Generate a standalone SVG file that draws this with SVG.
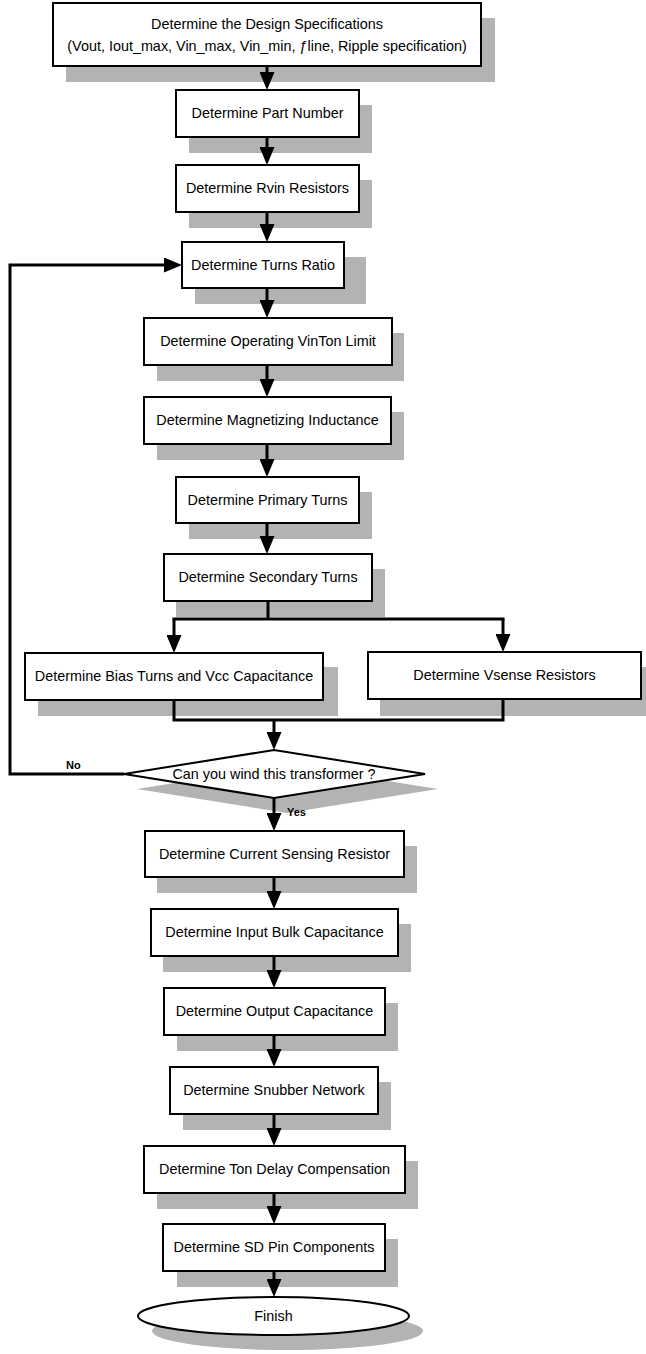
<svg xmlns="http://www.w3.org/2000/svg" width="646" height="1354" viewBox="0 0 646 1354">
<style>
.box{fill:#fff;stroke:#000;stroke-width:2}
.sh{fill:#b3b3b3}
.t{font-family:"Liberation Sans",Arial,sans-serif;font-size:14.4px;fill:#000;text-anchor:middle}
.lbl{font-family:"Liberation Sans",Arial,sans-serif;font-size:11px;font-weight:bold;fill:#000}
.c{fill:none;stroke:#000;stroke-width:3}
.ca{fill:none;stroke:#000;stroke-width:3;marker-end:url(#ah)}
</style>
<defs>
<marker id="ah" viewBox="0 0 18 15" refX="1" refY="7.5" markerWidth="18" markerHeight="15" markerUnits="userSpaceOnUse" orient="auto">
<path d="M0,0 L18,7.5 L0,15 z" fill="#000"/>
</marker>
</defs>
<rect width="646" height="1354" fill="#fff"/>

<g id="n1"><rect class="sh" x="66" y="18" width="429" height="64"/><rect class="box" x="53" y="3" width="428" height="63"/><text class="t" x="267" y="29">Determine the Design Specifications</text><text class="t" x="267" y="51">(Vout, Iout_max, Vin_max, Vin_min, ƒline, Ripple specification)</text></g>
<g id="n2"><rect class="sh" x="189" y="105" width="183" height="48"/><rect class="box" x="176" y="90" width="183" height="47"/><text class="t" x="267.5" y="118">Determine Part Number</text></g>
<g id="n3"><rect class="sh" x="189" y="180" width="183" height="48"/><rect class="box" x="176" y="165" width="183" height="47"/><text class="t" x="267.5" y="193">Determine Rvin Resistors</text></g>
<g id="n4"><rect class="sh" x="195" y="257" width="171" height="47"/><rect class="box" x="182" y="242" width="162" height="46"/><text class="t" x="263" y="270">Determine Turns Ratio</text></g>
<g id="n5"><rect class="sh" x="157" y="333" width="247" height="48"/><rect class="box" x="144" y="318" width="248" height="47"/><text class="t" x="268" y="346">Determine Operating VinTon Limit</text></g>
<g id="n6"><rect class="sh" x="157" y="412" width="247" height="48"/><rect class="box" x="144" y="397" width="247" height="47"/><text class="t" x="267.5" y="425">Determine Magnetizing Inductance</text></g>
<g id="n7"><rect class="sh" x="189" y="492" width="183" height="47"/><rect class="box" x="176" y="477" width="183" height="46"/><text class="t" x="267.5" y="505">Determine Primary Turns</text></g>
<g id="n8"><rect class="sh" x="176" y="569" width="209" height="48"/><rect class="box" x="164" y="554" width="208" height="47"/><text class="t" x="268" y="582">Determine Secondary Turns</text></g>
<g id="n9"><rect class="sh" x="38" y="667" width="300" height="49"/><rect class="box" x="25" y="653" width="298" height="47"/><text class="t" x="174" y="681">Determine Bias Turns and Vcc Capacitance</text></g>
<g id="n10"><rect class="sh" x="380" y="667" width="272" height="49"/><rect class="box" x="368" y="652" width="273" height="47"/><text class="t" x="504.5" y="680">Determine Vsense Resistors</text></g>
<g id="n11"><polygon class="sh" points="137,789 287,765 438,789 287,813"/><polygon class="box" points="124,774 274,750 425,774 274,798"/><text class="t" x="274" y="779">Can you wind this transformer ?</text></g>
<g id="n12"><rect class="sh" x="157" y="846" width="260" height="47"/><rect class="box" x="145" y="831" width="259" height="46"/><text class="t" x="274.5" y="859">Determine Current Sensing Resistor</text></g>
<g id="n13"><rect class="sh" x="163" y="924" width="248" height="48"/><rect class="box" x="151" y="909" width="247" height="47"/><text class="t" x="274.5" y="937">Determine Input Bulk Capacitance</text></g>
<g id="n14"><rect class="sh" x="177" y="1003" width="221" height="48"/><rect class="box" x="164" y="988" width="221" height="47"/><text class="t" x="274.5" y="1016">Determine Output Capacitance</text></g>
<g id="n15"><rect class="sh" x="183" y="1082" width="208" height="48"/><rect class="box" x="170" y="1067" width="208" height="47"/><text class="t" x="274" y="1095">Determine Snubber Network</text></g>
<g id="n16"><rect class="sh" x="157" y="1161" width="261" height="48"/><rect class="box" x="144" y="1146" width="261" height="47"/><text class="t" x="274.5" y="1174">Determine Ton Delay Compensation</text></g>
<g id="n17"><rect class="sh" x="177" y="1239" width="221" height="48"/><rect class="box" x="163" y="1224" width="222" height="47"/><text class="t" x="274" y="1252">Determine SD Pin Components</text></g>
<g id="n18"><ellipse class="sh" cx="287.5" cy="1331" rx="135.5" ry="19"/><ellipse class="box" cx="273.5" cy="1316" rx="135.5" ry="19"/><text class="t" x="273.5" y="1321">Finish</text></g>

<g id="connectors">
<path class="ca" d="M267,66 V73"/>
<path class="ca" d="M267,137 V148"/>
<path class="ca" d="M267,212 V225"/>
<path class="ca" d="M267,288 V301"/>
<path class="ca" d="M267,365 V380"/>
<path class="ca" d="M267,444 V460"/>
<path class="ca" d="M267,523 V537"/>
<path class="c" d="M268,601 V619 M172.5,619 H504.5"/>
<path class="ca" d="M174,619 V636"/>
<path class="ca" d="M503,619 V635"/>
<path class="c" d="M174,700 V720 H503 V699"/>
<path class="ca" d="M274,720 V733"/>
<path class="ca" d="M274,798 V814"/>
<path class="ca" d="M274,877 V892"/>
<path class="ca" d="M274,956 V971"/>
<path class="ca" d="M274,1035 V1050"/>
<path class="ca" d="M274,1114 V1129"/>
<path class="ca" d="M274,1193 V1207"/>
<path class="ca" d="M274,1271 V1280"/>
<path class="ca" d="M124,774 H10 V265 H165"/>
<text class="lbl" x="66" y="769">No</text>
<text class="lbl" x="287" y="816">Yes</text>
</g>
</svg>
